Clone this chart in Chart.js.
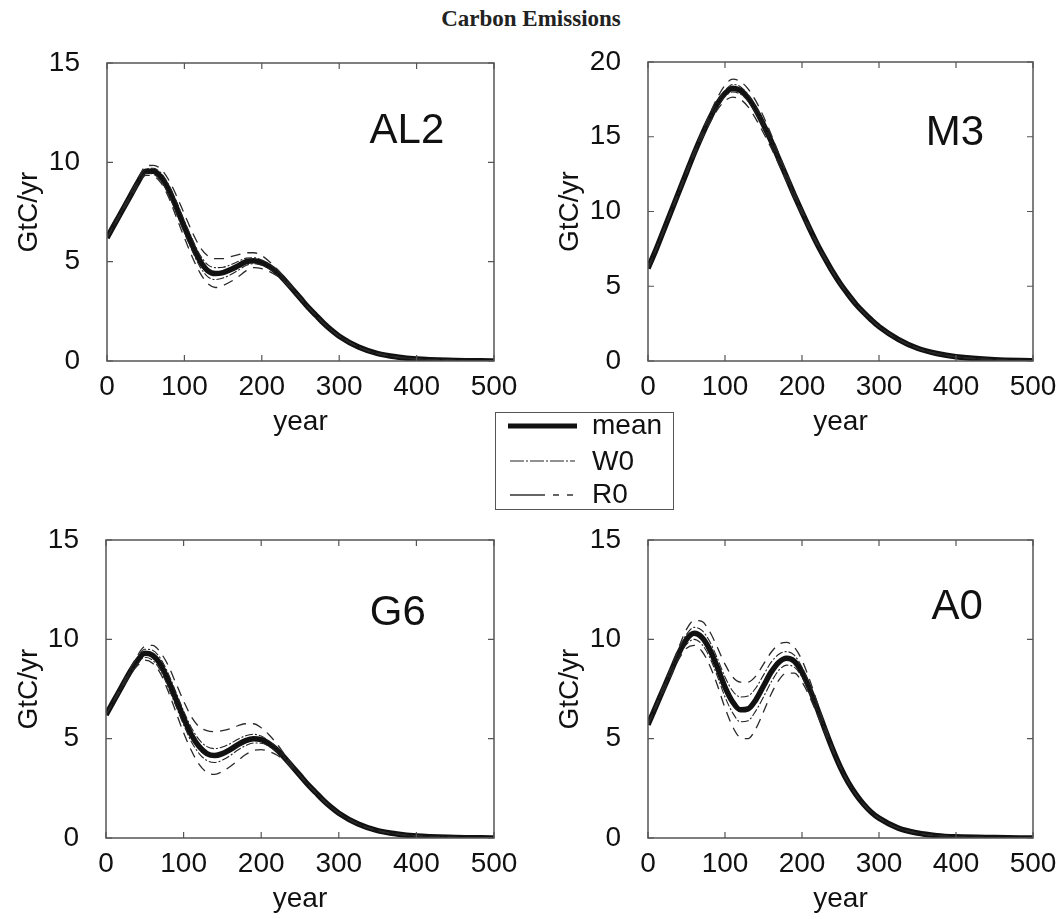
<!DOCTYPE html>
<html><head><meta charset="utf-8">
<script src="https://cdn.jsdelivr.net/npm/chart.js@4.4.1/dist/chart.umd.min.js"></script>
<style>
html,body{margin:0;padding:0;background:#fff;}
body{width:1062px;height:919px;position:relative;overflow:hidden;font-family:"Liberation Sans",Arial,sans-serif;}
canvas{position:absolute;display:block;}
#title{position:absolute;left:0;top:6px;width:1062px;text-align:center;font-family:"Liberation Serif","Times New Roman",serif;font-weight:bold;font-size:23px;color:#222;}
#legend{position:absolute;left:495px;top:412px;width:177px;height:96px;border:1.5px solid #555;background:#fff;}
#legend svg{position:absolute;left:0;top:0;}
.lt{position:absolute;left:96px;font-size:28px;line-height:30px;color:#111;white-space:nowrap;}
</style></head><body>
<div id="title">Carbon Emissions</div>
<canvas id="c1" width="520" height="400" style="left:0;top:50px"></canvas>
<canvas id="c2" width="531" height="400" style="left:531px;top:50px"></canvas>
<canvas id="c3" width="520" height="392" style="left:0;top:527px"></canvas>
<canvas id="c4" width="531" height="392" style="left:531px;top:527px"></canvas>
<div id="legend">
  <svg width="177" height="96">
    <line x1="12" y1="13" x2="81" y2="13" stroke="#111" stroke-width="5"/>
    <line x1="14" y1="48" x2="79" y2="48" stroke="#222" stroke-width="1.2" stroke-dasharray="14 2 2 2"/>
    <line x1="14" y1="82" x2="79" y2="82" stroke="#333" stroke-width="1.3" stroke-dasharray="35 8 6 8 6 40"/>
  </svg>
  <div class="lt" style="top:-3px">mean</div>
  <div class="lt" style="top:33px">W0</div>
  <div class="lt" style="top:66px">R0</div>
</div>
<script>
const years = [0,10,20,30,40,50,60,70,80,90,100,110,120,130,140,150,160,170,180,190,200,210,220,230,240,250,260,270,280,290,300,325,350,375,400,450,500];
const xTicks = [0,100,200,300,400,500];
const yTicks15 = [0,5,10,15];
const yTicks20 = [0,5,10,15,20];
const panelNames = ['AL2','M3','G6','A0'];
const seriesNames = ['mean','W0','R0'];

// AL2
const al2Mean = [6.2,6.9,7.6,8.3,9.0,9.55,9.55,9.25,8.6,7.7,6.75,5.85,5.05,4.55,4.4,4.45,4.6,4.8,5.0,5.05,4.95,4.75,4.45,4.05,3.6,3.15,2.7,2.3,1.9,1.55,1.25,0.7,0.37,0.2,0.1,0.03,0.0];
const al2W0u  = [6.2,6.92,7.63,8.34,9.05,9.65,9.7,9.45,8.85,8.0,7.05,6.15,5.35,4.85,4.7,4.72,4.85,5.02,5.18,5.2,5.08,4.85,4.52,4.1,3.62,3.15,2.7,2.3,1.9,1.55,1.25,0.7,0.37,0.2,0.1,0.03,0.0];
const al2W0l  = [6.2,6.88,7.57,8.26,8.95,9.45,9.4,9.05,8.35,7.4,6.45,5.55,4.75,4.25,4.1,4.18,4.35,4.58,4.82,4.9,4.82,4.65,4.38,4.0,3.58,3.15,2.7,2.3,1.9,1.55,1.25,0.7,0.37,0.2,0.1,0.03,0.0];
const al2R0u  = [6.2,6.93,7.66,8.4,9.15,9.8,9.85,9.65,9.1,8.3,7.4,6.5,5.75,5.3,5.15,5.15,5.25,5.35,5.45,5.45,5.3,5.0,4.62,4.15,3.65,3.15,2.7,2.3,1.9,1.55,1.25,0.7,0.37,0.2,0.1,0.03,0.0];
const al2R0l  = [6.2,6.87,7.54,8.2,8.85,9.35,9.3,8.95,8.2,7.2,6.2,5.25,4.45,3.9,3.7,3.8,4.0,4.25,4.55,4.7,4.65,4.5,4.28,3.95,3.55,3.15,2.7,2.3,1.9,1.55,1.25,0.7,0.37,0.2,0.1,0.03,0.0];

// M3
const m3Mean = [6.2,7.4,8.7,10.0,11.3,12.6,13.9,15.1,16.2,17.2,17.9,18.25,18.1,17.6,16.8,15.8,14.7,13.5,12.3,11.1,9.95,8.85,7.8,6.85,5.95,5.15,4.45,3.8,3.25,2.75,2.3,1.45,0.85,0.5,0.28,0.08,0.02];
const m3W0u  = [6.2,7.4,8.7,10.0,11.32,12.63,13.95,15.17,16.3,17.35,18.1,18.5,18.35,17.82,17.0,15.95,14.82,13.6,12.38,11.15,10.0,8.88,7.82,6.86,5.95,5.15,4.45,3.8,3.25,2.75,2.3,1.45,0.85,0.5,0.28,0.08,0.02];
const m3W0l  = [6.2,7.4,8.7,10.0,11.28,12.57,13.85,15.03,16.1,17.05,17.7,18.0,17.85,17.38,16.6,15.65,14.58,13.4,12.22,11.05,9.9,8.82,7.78,6.84,5.95,5.15,4.45,3.8,3.25,2.75,2.3,1.45,0.85,0.5,0.28,0.08,0.02];
const m3R0u  = [6.2,7.4,8.72,10.05,11.38,12.7,14.05,15.3,16.5,17.6,18.45,18.85,18.7,18.2,17.4,16.35,15.15,13.85,12.55,11.3,10.1,8.95,7.88,6.9,5.95,5.15,4.45,3.8,3.25,2.75,2.3,1.45,0.85,0.5,0.28,0.08,0.02];
const m3R0l  = [6.2,7.4,8.68,9.95,11.22,12.5,13.75,14.9,15.9,16.8,17.4,17.65,17.5,17.0,16.2,15.25,14.25,13.15,12.05,10.9,9.8,8.75,7.72,6.8,5.95,5.15,4.45,3.8,3.25,2.75,2.3,1.45,0.85,0.5,0.28,0.08,0.02];

// G6
const g6Mean = [6.2,6.9,7.6,8.3,8.9,9.3,9.2,8.75,7.95,7.0,6.05,5.2,4.6,4.25,4.15,4.25,4.45,4.7,4.9,5.0,4.95,4.75,4.45,4.05,3.6,3.15,2.7,2.3,1.9,1.55,1.25,0.7,0.37,0.2,0.1,0.03,0.0];
const g6W0u  = [6.2,6.92,7.64,8.36,9.05,9.5,9.45,9.05,8.3,7.35,6.4,5.55,4.95,4.6,4.5,4.58,4.75,4.97,5.15,5.22,5.13,4.88,4.54,4.1,3.62,3.15,2.7,2.3,1.9,1.55,1.25,0.7,0.37,0.2,0.1,0.03,0.0];
const g6W0l  = [6.2,6.88,7.56,8.24,8.75,9.1,8.95,8.45,7.6,6.65,5.7,4.85,4.25,3.9,3.8,3.92,4.15,4.43,4.65,4.78,4.77,4.62,4.36,4.0,3.58,3.15,2.7,2.3,1.9,1.55,1.25,0.7,0.37,0.2,0.1,0.03,0.0];
const g6R0u  = [6.2,6.94,7.68,8.43,9.15,9.65,9.7,9.35,8.7,7.8,6.9,6.1,5.6,5.4,5.35,5.4,5.5,5.65,5.75,5.75,5.55,5.2,4.75,4.22,3.68,3.15,2.7,2.3,1.9,1.55,1.25,0.7,0.37,0.2,0.1,0.03,0.0];
const g6R0l  = [6.2,6.86,7.52,8.17,8.65,8.95,8.8,8.3,7.4,6.35,5.3,4.4,3.7,3.3,3.2,3.35,3.6,3.9,4.2,4.4,4.45,4.35,4.18,3.9,3.52,3.15,2.7,2.3,1.9,1.55,1.25,0.7,0.37,0.2,0.1,0.03,0.0];

// A0
const a0Mean = [5.7,6.6,7.5,8.4,9.3,10.0,10.3,10.1,9.5,8.6,7.6,6.85,6.45,6.5,6.95,7.65,8.35,8.85,9.05,8.9,8.35,7.5,6.5,5.45,4.45,3.55,2.8,2.2,1.7,1.3,1.0,0.5,0.25,0.12,0.06,0.02,0.0];
const a0W0u  = [5.7,6.63,7.56,8.5,9.45,10.25,10.6,10.45,9.9,9.05,8.1,7.4,7.1,7.15,7.55,8.2,8.85,9.25,9.38,9.2,8.6,7.7,6.62,5.52,4.48,3.55,2.8,2.2,1.7,1.3,1.0,0.5,0.25,0.12,0.06,0.02,0.0];
const a0W0l  = [5.7,6.57,7.44,8.3,9.15,9.75,10.0,9.75,9.1,8.15,7.1,6.3,5.85,5.9,6.4,7.1,7.85,8.45,8.7,8.6,8.1,7.3,6.38,5.38,4.42,3.55,2.8,2.2,1.7,1.3,1.0,0.5,0.25,0.12,0.06,0.02,0.0];
const a0R0u  = [5.7,6.66,7.62,8.6,9.6,10.5,10.95,10.9,10.4,9.6,8.75,8.1,7.85,7.85,8.15,8.75,9.35,9.75,9.85,9.6,8.95,7.95,6.8,5.62,4.52,3.55,2.8,2.2,1.7,1.3,1.0,0.5,0.25,0.12,0.06,0.02,0.0];
const a0R0l  = [5.7,6.54,7.38,8.2,9.0,9.55,9.7,9.4,8.7,7.7,6.55,5.6,5.05,5.0,5.5,6.35,7.25,7.95,8.3,8.3,7.85,7.1,6.2,5.28,4.38,3.55,2.8,2.2,1.7,1.3,1.0,0.5,0.25,0.12,0.06,0.02,0.0];

Chart.defaults.font.family = '"Liberation Sans", Arial, sans-serif';
Chart.defaults.color = '#111';

const framePlugin = {
  id: 'frame',
  afterDatasetsDraw(chart, args, opts) {
    const {ctx, chartArea: a, scales: {x, y}} = chart;
    ctx.save();
    ctx.strokeStyle = '#555';
    ctx.lineWidth = 1.5;
    ctx.strokeRect(a.left, a.top, a.right - a.left, a.bottom - a.top);
    ctx.lineWidth = 1.2;
    ctx.beginPath();
    x.ticks.forEach(t => {
      const px = x.getPixelForValue(t.value);
      ctx.moveTo(px, a.bottom); ctx.lineTo(px, a.bottom - 6);
      ctx.moveTo(px, a.top); ctx.lineTo(px, a.top + 6);
    });
    y.ticks.forEach(t => {
      const py = y.getPixelForValue(t.value);
      ctx.moveTo(a.left, py); ctx.lineTo(a.left + 6, py);
      ctx.moveTo(a.right, py); ctx.lineTo(a.right - 6, py);
    });
    ctx.stroke();
    ctx.font = '42px "Liberation Sans", Arial, sans-serif';
    ctx.fillStyle = '#111';
    ctx.textAlign = 'center';
    ctx.textBaseline = 'middle';
    ctx.fillText(opts.text, a.left + opts.fx * (a.right - a.left), a.top + opts.fy * (a.bottom - a.top));
    ctx.restore();
  }
};

function pts(arr) { return years.map((yr, i) => ({x: yr, y: arr[i]})); }

function makePanel(id, p) {
  const ds = (label, arr, w, col, dash) => ({
    label, data: pts(arr), borderColor: col, borderWidth: w, borderDash: dash,
    pointRadius: 0, fill: false, cubicInterpolationMode: 'monotone', borderCapStyle: 'butt'
  });
  new Chart(document.getElementById(id), {
    type: 'line',
    data: {
      datasets: [
        ds(seriesNames[2] + ' upper', p.r0u, 1.3, '#2a2a2a', [10, 7]),
        ds(seriesNames[2] + ' lower', p.r0l, 1.3, '#2a2a2a', [10, 7]),
        ds(seriesNames[1] + ' upper', p.w0u, 1.1, '#222', [8, 2, 2, 2]),
        ds(seriesNames[1] + ' lower', p.w0l, 1.1, '#222', [8, 2, 2, 2]),
        ds(seriesNames[0], p.mean, 5.5, '#111', [])
      ]
    },
    options: {
      responsive: false, animation: false, devicePixelRatio: 1, events: [],
      layout: {padding: {top: p.padTop, right: p.padRight, bottom: 0, left: 0}},
      plugins: {legend: {display: false}, tooltip: {enabled: false},
        frame: {text: p.label, fx: p.fx, fy: p.fy}},
      scales: {
        x: {
          type: 'linear', min: 0, max: 500,
          afterBuildTicks: s => { s.ticks = xTicks.map(v => ({value: v})); },
          afterFit: s => { s.height = p.xAxisH; s.paddingLeft = 0; s.paddingRight = 0; },
          grid: {display: false}, border: {display: false},
          ticks: {font: {size: 28}, padding: 1, color: '#111', maxRotation: 0},
          title: {display: true, text: 'year', font: {size: 28}, color: '#111', padding: {top: 0, bottom: p.xTitlePad}}
        },
        y: {
          type: 'linear', min: 0, max: p.yMax,
          afterBuildTicks: s => { s.ticks = p.yTicks.map(v => ({value: v})); },
          afterFit: s => { s.width = p.yAxisW; s.paddingTop = 0; s.paddingBottom = 0; },
          grid: {display: false}, border: {display: false},
          ticks: {font: {size: 28}, padding: 19, color: '#111'},
          title: {display: true, text: 'GtC/yr', font: {size: 28}, color: '#111', padding: {top: p.yTitlePad, bottom: 0}}
        }
      }
    },
    plugins: [framePlugin]
  });
}

makePanel('c1', {label: panelNames[0], fx: 0.775, fy: 0.23, mean: al2Mean, w0u: al2W0u, w0l: al2W0l, r0u: al2R0u, r0l: al2R0l,
  yMax: 15, yTicks: yTicks15, yAxisW: 107, padRight: 26, padTop: 13, xAxisH: 89, xTitlePad: 11, yTitlePad: 12});
makePanel('c2', {label: panelNames[1], fx: 0.797, fy: 0.238, mean: m3Mean, w0u: m3W0u, w0l: m3W0l, r0u: m3R0u, r0l: m3R0l,
  yMax: 20, yTicks: yTicks20, yAxisW: 117, padRight: 29, padTop: 12, xAxisH: 89, xTitlePad: 11, yTitlePad: 22});
makePanel('c3', {label: panelNames[2], fx: 0.752, fy: 0.245, mean: g6Mean, w0u: g6W0u, w0l: g6W0l, r0u: g6R0u, r0l: g6R0l,
  yMax: 15, yTicks: yTicks15, yAxisW: 106, padRight: 26, padTop: 13, xAxisH: 81, xTitlePad: 3, yTitlePad: 12});
makePanel('c4', {label: panelNames[3], fx: 0.803, fy: 0.225, mean: a0Mean, w0u: a0W0u, w0l: a0W0l, r0u: a0R0u, r0l: a0R0l,
  yMax: 15, yTicks: yTicks15, yAxisW: 117, padRight: 29, padTop: 13, xAxisH: 81, xTitlePad: 3, yTitlePad: 22});
</script>
</body></html>
